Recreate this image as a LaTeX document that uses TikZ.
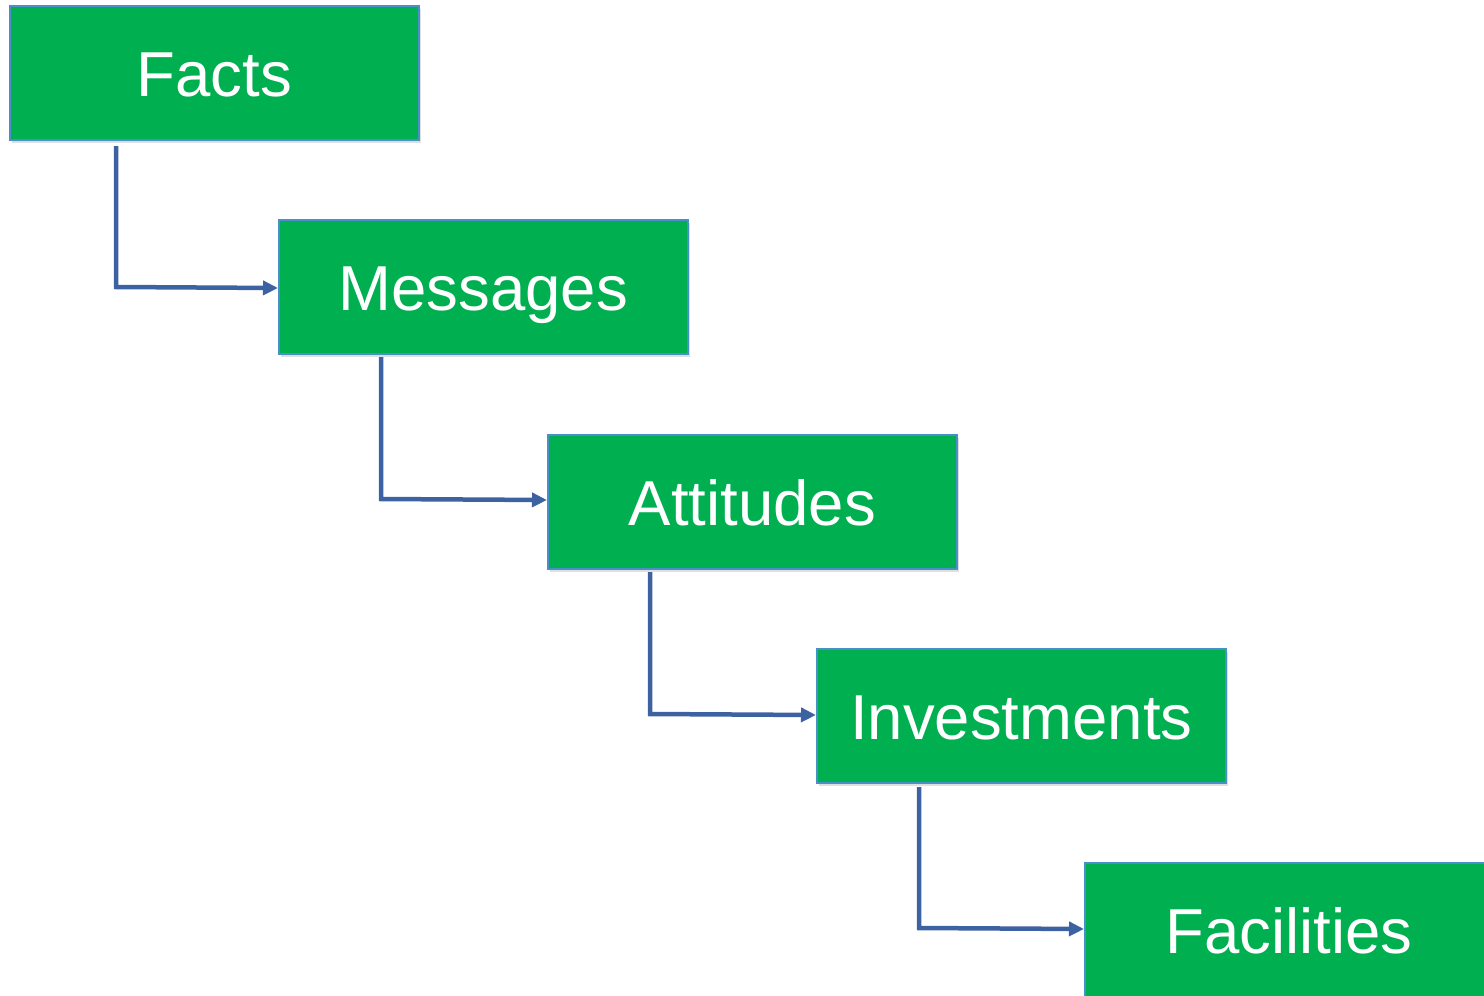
\documentclass[tikz,border=0pt]{standalone}
\usepackage{fontspec}
\setmainfont{Liberation Sans}
\usetikzlibrary{arrows.meta,shadows}
\definecolor{boxgreen}{HTML}{00AF50}
\definecolor{boxedge}{HTML}{4A90C8}
\definecolor{linkblue}{HTML}{3D62A2}
\begin{document}
\begin{tikzpicture}[x=1pt,y=-1pt,
  stepbox/.style={draw=boxedge, line width=1.5pt, fill=boxgreen, minimum width=409pt, minimum height=134pt, anchor=north west, inner sep=0pt, text height=48pt, text depth=0pt, text=white, font=\fontsize{63.5}{70}\selectfont, drop shadow={shadow xshift=2pt, shadow yshift=-3pt, opacity=0.25}},
  link/.style={draw=linkblue, line width=4.5pt, -{Triangle[length=15pt,width=14pt]}}]
\useasboundingbox (0,0) rectangle (1484,996);
\begin{scope}
\clip (0,0) rectangle (1484,996);
\node[stepbox] (f) at (9,5) {Facts};
\node[stepbox] (m) at (278,219) {Messages};
\node[stepbox] (a) at (547,434) {Attitudes};
\node[stepbox] (i) at (816,648) {Investments};
\node[stepbox] (c) at (1084,862) {Facilities};
\end{scope}
\coordinate (f1) at (116,146); \coordinate (f2) at (116,287);
\coordinate (m1) at (381,357); \coordinate (m2) at (381,499);
\coordinate (a1) at (650,572); \coordinate (a2) at (650,714);
\coordinate (i1) at (919,787); \coordinate (i2) at (919,928);
\draw[link] (f1) -- (f2) -- (m.west |- 0,288);
\draw[link] (m1) -- (m2) -- (a.west |- 0,500);
\draw[link] (a1) -- (a2) -- (i.west |- 0,715);
\draw[link] (i1) -- (i2) -- (c.west |- 0,929);
\end{tikzpicture}
\end{document}
